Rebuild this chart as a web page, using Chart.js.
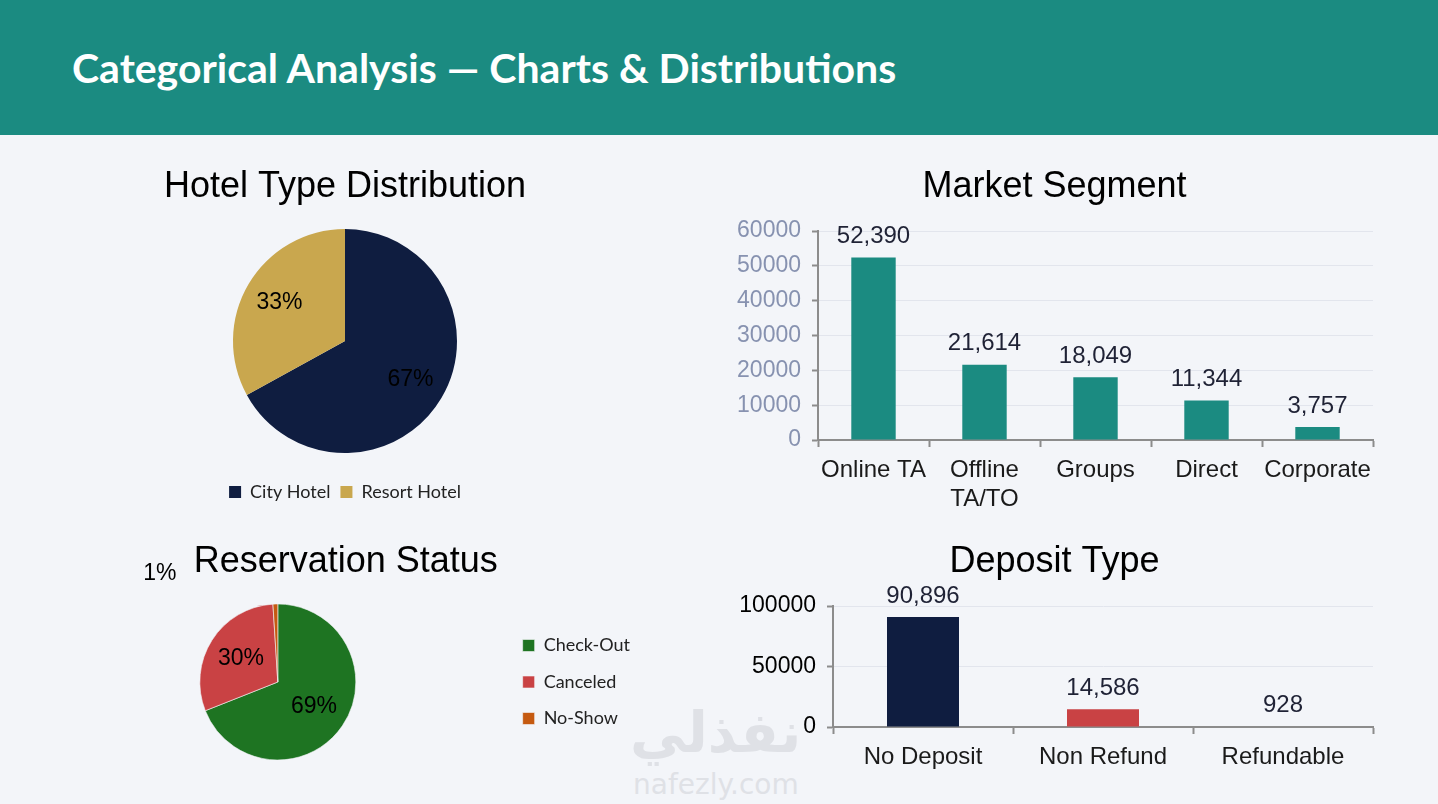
<!DOCTYPE html>
<html>
<head>
<meta charset="utf-8">
<script src="https://cdn.jsdelivr.net/npm/chart.js@4.4.1/dist/chart.umd.min.js"></script>
<style>
  body { margin: 0; width: 1438px; height: 804px; background: #f3f5f9; overflow: hidden; position: relative; }
  .header { position: absolute; left: 0; top: 0; width: 1438px; height: 135px; background: #1b8b81; }
  .header h1 { position: absolute; left: 72px; top: 43px; margin: 0; color: #fff; font: 700 41px Lato, sans-serif; line-height: 50px; white-space: nowrap; }
  .box { position: absolute; z-index: 1; }
  .wm { position: absolute; color: #dfe1e6; z-index: 0; white-space: nowrap; }
</style>
</head>
<body>
<div class="header"><h1>Categorical Analysis — Charts &amp; Distributions</h1></div>

<div class="wm" style="left:630px; top:700px; font: 700 56px 'DejaVu Sans', sans-serif;">نفذلي</div>
<div class="wm" style="left:633px; top:768px; font: 400 28px 'DejaVu Sans', sans-serif;">nafezly.com</div>

<div class="box" style="left:140px; top:160px; width:410px; height:351px;"><canvas id="hotelChart"></canvas></div>
<div class="box" style="left:700px; top:160px; width:690px; height:360px;"><canvas id="segmentChart"></canvas></div>
<div class="box" style="left:50px; top:535px; width:590px; height:225px;"><canvas id="statusChart"></canvas></div>
<div class="box" style="left:700px; top:535px; width:690px; height:245px;"><canvas id="depositChart"></canvas></div>

<script>
// data
const hotelLabels = ['City Hotel', 'Resort Hotel'];
const hotelShare = [67, 33];

const segmentLabels = ['Online TA', ['Offline', 'TA/TO'], 'Groups', 'Direct', 'Corporate'];
const segmentCounts = [52390, 21614, 18049, 11344, 3757];
const segmentTicks = [0, 10000, 20000, 30000, 40000, 50000, 60000];

const statusLabels = ['Check-Out', 'Canceled', 'No-Show'];
const statusShare = [69, 30, 1];

const depositLabels = ['No Deposit', 'Non Refund', 'Refundable'];
const depositCounts = [90896, 14586, 928];
const depositTicks = [0, 50000, 100000];

const ARIAL = '"Liberation Sans", Arial, sans-serif';
const AXIS = '#8c8c8c';
const GRID = '#e2e5ed';

Chart.defaults.font.family = ARIAL;
Chart.defaults.animation = false;

// percentage labels inside the slices (small slices go outside)
const sliceLabels = {
  id: 'sliceLabels',
  afterDatasetsDraw(chart, args, opts) {
    const meta = chart.getDatasetMeta(0);
    const data = chart.data.datasets[0].data;
    const total = data.reduce((a, b) => a + b, 0);
    const ctx = chart.ctx;
    ctx.save();
    ctx.font = '23px ' + ARIAL;
    ctx.fillStyle = '#000';
    ctx.textAlign = 'center';
    ctx.textBaseline = 'middle';
    meta.data.forEach((arc, i) => {
      const p = arc.getProps(['x', 'y', 'startAngle', 'endAngle', 'outerRadius'], true);
      const share = data[i] / total;
      let a = (p.startAngle + p.endAngle) / 2;
      let r = p.outerRadius * opts.inside;
      if (share < 0.03) {
        a = opts.smallAngle;
        r = p.outerRadius * opts.smallDist;
      }
      ctx.fillText(Math.round(share * 100) + '%', p.x + Math.cos(a) * r, p.y + Math.sin(a) * r);
    });
    ctx.restore();
  }
};

// value above each bar
const barValues = {
  id: 'barValues',
  afterDatasetsDraw(chart) {
    const meta = chart.getDatasetMeta(0);
    const data = chart.data.datasets[0].data;
    const ctx = chart.ctx;
    ctx.save();
    ctx.font = '24px ' + ARIAL;
    ctx.fillStyle = '#1f2235';
    ctx.textAlign = 'center';
    ctx.textBaseline = 'middle';
    meta.data.forEach((bar, i) => {
      ctx.fillText(data[i].toLocaleString('en-US'), bar.x, bar.y - 21);
    });
    ctx.restore();
  }
};

function titleOpts(text, top, bottom) {
  return {
    display: true, text: text, color: '#000',
    font: { size: 36, weight: 'normal', family: ARIAL },
    padding: { top: top, bottom: bottom }
  };
}

function barScales(labelsColor, ticks, yWidth, xHeight) {
  return {
    x: {
      grid: { drawOnChartArea: false, offset: true, tickLength: 7, tickWidth: 2, tickColor: AXIS },
      border: { color: AXIS, width: 2 },
      ticks: { color: '#1a1a1a', font: { size: 24 }, padding: 9, maxRotation: 0, autoSkip: false },
      afterFit(s) { s.height = xHeight; }
    },
    y: {
      min: ticks[0],
      max: ticks[ticks.length - 1],
      grid: { color: GRID, lineWidth: 1, tickLength: 6, tickWidth: 2, tickColor: AXIS },
      border: { color: AXIS, width: 2 },
      ticks: { stepSize: ticks[1] - ticks[0], color: labelsColor, font: { size: 23 }, padding: 11, callback: v => String(v) },
      afterFit(s) { s.width = yWidth; }
    }
  };
}

new Chart(document.getElementById('hotelChart'), {
  type: 'pie',
  data: {
    labels: hotelLabels,
    datasets: [{ data: hotelShare, backgroundColor: ['#0f1d40', '#c9a74e'], borderWidth: 0 }]
  },
  options: {
    responsive: true,
    maintainAspectRatio: false,
    radius: 112,
    plugins: {
      title: titleOpts('Hotel Type Distribution', 5.4, 0.4),
      legend: {
        position: 'bottom',
        labels: { boxWidth: 12, boxHeight: 12, padding: 10, color: '#222', font: { size: 18, family: 'Lato' } }
      },
      tooltip: { enabled: false },
      sliceLabels: { inside: 0.68 }
    }
  },
  plugins: [sliceLabels]
});

new Chart(document.getElementById('segmentChart'), {
  type: 'bar',
  data: {
    labels: segmentLabels,
    datasets: [{ data: segmentCounts, backgroundColor: '#1b8b81', barPercentage: 0.4, categoryPercentage: 1 }]
  },
  options: {
    responsive: true,
    maintainAspectRatio: false,
    layout: { padding: { left: 36, right: 17 } },
    scales: barScales('#8792b0', segmentTicks, 82, 80),
    plugins: {
      title: titleOpts('Market Segment', 5.4, 22.4),
      legend: { display: false },
      tooltip: { enabled: false }
    }
  },
  plugins: [barValues]
});

new Chart(document.getElementById('statusChart'), {
  type: 'pie',
  data: {
    labels: statusLabels,
    datasets: [{ data: statusShare, backgroundColor: ['#1e7422', '#c94244', '#c55a11'], borderWidth: 0.6, borderColor: '#f3f5f9' }]
  },
  options: {
    responsive: true,
    maintainAspectRatio: false,
    radius: 78,
    layout: { padding: { left: 1.5 } },
    plugins: {
      title: titleOpts('Reservation Status', 5.4, 20.4),
      legend: {
        position: 'right',
        fullSize: false,
        labels: { boxWidth: 12, boxHeight: 12, padding: 18.5, color: '#222', font: { size: 18, family: 'Lato' } }
      },
      tooltip: { enabled: false },
      sliceLabels: { inside: 0.56, smallAngle: -2.4, smallDist: 2.05 }
    }
  },
  plugins: [sliceLabels]
});

new Chart(document.getElementById('depositChart'), {
  type: 'bar',
  data: {
    labels: depositLabels,
    datasets: [{ data: depositCounts, backgroundColor: ['#0f1d40', '#c94244', AXIS], barPercentage: 0.4, categoryPercentage: 1 }]
  },
  options: {
    responsive: true,
    maintainAspectRatio: false,
    layout: { padding: { left: 36, right: 17 } },
    scales: barScales('#000', depositTicks, 97, 53),
    plugins: {
      title: titleOpts('Deposit Type', 5.4, 22.4),
      legend: { display: false },
      tooltip: { enabled: false }
    }
  },
  plugins: [barValues]
});
</script>
</body>
</html>
